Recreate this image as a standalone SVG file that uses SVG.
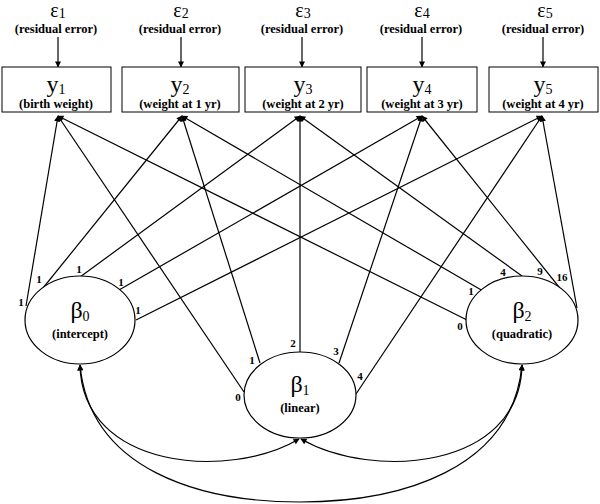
<svg xmlns="http://www.w3.org/2000/svg" width="600" height="504" viewBox="0 0 600 504">
<defs>
<marker id="ah" viewBox="0 0 10 10" refX="9" refY="5" markerWidth="8" markerHeight="6" markerUnits="userSpaceOnUse" orient="auto-start-reverse">
<path d="M0,0 L10,5 L0,10 z" fill="#000"/>
</marker>
<style>
.box{fill:#fff;stroke:#000;stroke-width:1}
.ell{fill:#fff;stroke:#000;stroke-width:1.2}
.ln{fill:none;stroke:#000;stroke-width:1.2}
.big{font-family:"Liberation Serif","DejaVu Serif",serif;font-size:24px;text-anchor:middle;fill:#000}
.eps{font-family:"Liberation Serif","DejaVu Serif",serif;font-size:20px;text-anchor:middle;fill:#000}
.sub{font-size:14px}
.sm{font-family:"Liberation Serif","DejaVu Serif",serif;font-size:12.5px;font-weight:bold;text-anchor:middle;fill:#000}
.cf{font-family:"Liberation Serif","DejaVu Serif",serif;font-size:11px;font-weight:bold;text-anchor:middle;fill:#000}
</style>
</defs>
<rect width="600" height="504" fill="#fff"/>
<g id="connectors">
<line class="ln" x1="58" y1="37" x2="58" y2="67" marker-end="url(#ah)"/>
<line class="ln" x1="181" y1="37" x2="181" y2="67" marker-end="url(#ah)"/>
<line class="ln" x1="302" y1="37" x2="302" y2="67" marker-end="url(#ah)"/>
<line class="ln" x1="422" y1="37" x2="422" y2="67" marker-end="url(#ah)"/>
<line class="ln" x1="543" y1="37" x2="543" y2="67" marker-end="url(#ah)"/>
<line class="ln" x1="26" y1="306" x2="58" y2="116" marker-end="url(#ah)"/>
<line class="ln" x1="43" y1="288" x2="182" y2="116" marker-end="url(#ah)"/>
<line class="ln" x1="80" y1="277" x2="300" y2="116" marker-end="url(#ah)"/>
<line class="ln" x1="119" y1="290" x2="422" y2="116" marker-end="url(#ah)"/>
<line class="ln" x1="136" y1="320" x2="542" y2="116" marker-end="url(#ah)"/>
<line class="ln" x1="244" y1="392" x2="58" y2="116" marker-end="url(#ah)"/>
<line class="ln" x1="260" y1="363" x2="182" y2="116" marker-end="url(#ah)"/>
<line class="ln" x1="300" y1="352" x2="300" y2="116" marker-end="url(#ah)"/>
<line class="ln" x1="339" y1="363" x2="422" y2="116" marker-end="url(#ah)"/>
<line class="ln" x1="356" y1="394" x2="542" y2="116" marker-end="url(#ah)"/>
<line class="ln" x1="467" y1="320" x2="58" y2="116" marker-end="url(#ah)"/>
<line class="ln" x1="483" y1="291" x2="182" y2="116" marker-end="url(#ah)"/>
<line class="ln" x1="522" y1="276" x2="300" y2="116" marker-end="url(#ah)"/>
<line class="ln" x1="563" y1="292" x2="422" y2="116" marker-end="url(#ah)"/>
<line class="ln" x1="577" y1="308" x2="542" y2="116" marker-end="url(#ah)"/>
<path class="ln" d="M80,365 C82,470 230,480 299,439" marker-start="url(#ah)" marker-end="url(#ah)"/>
<path class="ln" d="M522,365 C520,470 372,480 301,439" marker-start="url(#ah)" marker-end="url(#ah)"/>
<path class="ln" d="M80,365 C90,470 200,502 300,502 C400,502 512,470 522,365" marker-start="url(#ah)" marker-end="url(#ah)"/>
</g>
<g id="e1"><text class="eps" x="58" y="17">ε<tspan class="sub" dy="1">1</tspan></text><text class="sm" x="56" y="33">(residual error)</text></g>
<g id="e2"><text class="eps" x="181" y="17">ε<tspan class="sub" dy="1">2</tspan></text><text class="sm" x="180" y="33">(residual error)</text></g>
<g id="e3"><text class="eps" x="303" y="17">ε<tspan class="sub" dy="1">3</tspan></text><text class="sm" x="302" y="33">(residual error)</text></g>
<g id="e4"><text class="eps" x="422" y="17">ε<tspan class="sub" dy="1">4</tspan></text><text class="sm" x="421" y="33">(residual error)</text></g>
<g id="e5"><text class="eps" x="545" y="17">ε<tspan class="sub" dy="1">5</tspan></text><text class="sm" x="543" y="33">(residual error)</text></g>
<g id="y1"><rect class="box" x="2" y="67" width="109" height="45"/><text class="big" x="56" y="92">y<tspan class="sub" dy="2">1</tspan></text><text class="sm" x="56" y="108">(birth weight)</text></g>
<g id="y2"><rect class="box" x="122" y="67" width="117" height="45"/><text class="big" x="180" y="92">y<tspan class="sub" dy="2">2</tspan></text><text class="sm" x="180" y="108">(weight at 1 yr)</text></g>
<g id="y3"><rect class="box" x="245" y="67" width="116" height="45"/><text class="big" x="303" y="92">y<tspan class="sub" dy="2">3</tspan></text><text class="sm" x="303" y="108">(weight at 2 yr)</text></g>
<g id="y4"><rect class="box" x="367" y="67" width="110" height="45"/><text class="big" x="422" y="92">y<tspan class="sub" dy="2">4</tspan></text><text class="sm" x="422" y="108">(weight at 3 yr)</text></g>
<g id="y5"><rect class="box" x="489" y="67" width="109" height="45"/><text class="big" x="543" y="92">y<tspan class="sub" dy="2">5</tspan></text><text class="sm" x="543" y="108">(weight at 4 yr)</text></g>
<g id="b0"><ellipse class="ell" cx="80" cy="320" rx="55" ry="44"/><text class="big" x="80" y="318">β<tspan class="sub" dy="3">0</tspan></text><text class="sm" x="80" y="338">(intercept)</text></g>
<g id="b1"><ellipse class="ell" cx="300" cy="395" rx="56" ry="43"/><text class="big" x="300" y="392">β<tspan class="sub" dy="3">1</tspan></text><text class="sm" x="300" y="412">(linear)</text></g>
<g id="b2"><ellipse class="ell" cx="522" cy="320" rx="56" ry="44"/><text class="big" x="522" y="318">β<tspan class="sub" dy="3">2</tspan></text><text class="sm" x="522" y="338">(quadratic)</text></g>
<g id="coef">
<text class="cf" x="21" y="306">1</text>
<text class="cf" x="39" y="283">1</text>
<text class="cf" x="79" y="273">1</text>
<text class="cf" x="121" y="286">1</text>
<text class="cf" x="138" y="314">1</text>
<text class="cf" x="238" y="401">0</text>
<text class="cf" x="252" y="364">1</text>
<text class="cf" x="293" y="347">2</text>
<text class="cf" x="336" y="355">3</text>
<text class="cf" x="360" y="380">4</text>
<text class="cf" x="460" y="330">0</text>
<text class="cf" x="471" y="295">1</text>
<text class="cf" x="503" y="276">4</text>
<text class="cf" x="540" y="275">9</text>
<text class="cf" x="562" y="281">16</text>
</g>
</svg>
